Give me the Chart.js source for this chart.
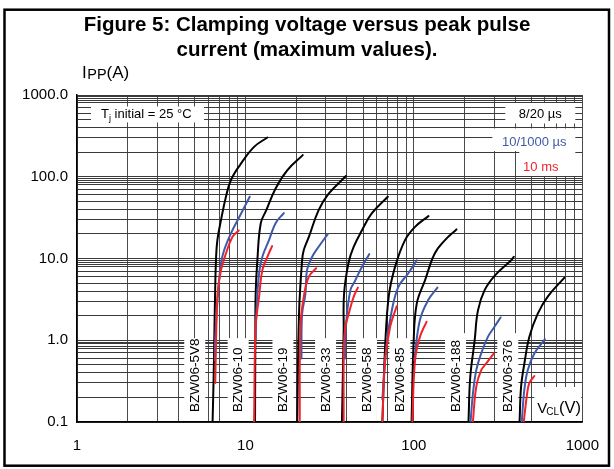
<!DOCTYPE html>
<html><head><meta charset="utf-8">
<script src="https://cdn.jsdelivr.net/npm/chart.js@4.4.0/dist/chart.umd.min.js"></script>
<style>html,body{margin:0;padding:0;background:#fff}canvas{display:block}</style>
</head><body>
<canvas id="c" width="614" height="469"></canvas>
<script>
const FONT = "'Liberation Sans', Arial, sans-serif";

// ---- data ----
const devices = ['BZW06-5V8','BZW06-10','BZW06-19','BZW06-33','BZW06-58','BZW06-85','BZW06-188','BZW06-376'];
const labelAt = [5.0, 9.05, 16.7, 29.9, 52.3, 82.6, 176.7, 361];
const labelTop = [1.06, 1.06, 1.06, 1.06, 1.06, 1.06, 1.22, 1.22];
const pulseNames = ['8/20 µs', '10/1000 µs', '10 ms'];
const pulseColors = ['#000000', '#3f5aa8', '#f2222b'];

const xTickValues = [1, 10, 100, 1000];
const xTickLabels = ['1', '10', '100', '1000'];
const yTickValues = [0.1, 1, 10, 100, 1000];
const yTickLabels = ['0.1', '1.0', '10.0', '100.0', '1000.0'];
const xGridSteps = [1, 2, 3, 4, 5, 6, 7, 8, 9];
const yGridSteps = [1, 2, 3, 4, 5, 6, 7, 8, 8.5, 9, 9.5];

// [V_CL (V), I_PP (A)]
const t820_5V8 = [[6.38,0.1],[6.47,0.33],[6.53,1],[6.6,3.4],[6.69,10],[6.82,17],[7.16,29.5],[7.66,57],[8.2,91],[9.3,140],[11.25,232],[13.5,302]];
const t10k_5V8 = [[6.58,0.57],[6.62,1.1],[6.9,4.1],[7.16,8.7],[7.48,12.7],[8.2,20.3],[9.18,32],[10.6,57]];
const t10ms_5V8 = [[6.62,0.3],[6.69,0.95],[6.74,1.8],[6.83,3.7],[7.16,7.2],[7.66,11.5],[8.38,18.4],[9.12,22]];

const t820_10 = [[11.4,0.1],[11.45,1],[11.5,3.7],[11.77,9.5],[12.33,27],[13.3,39],[15.1,72],[17.7,120],[21.9,184]];
const t10k_10 = [[11.5,1],[11.6,2.1],[12.05,6.6],[12.6,10.5],[13.8,16.8],[15.1,27],[16.9,36]];
const t10ms_10 = [[11.25,0.1],[11.5,1.46],[12.05,3.4],[12.6,7.2],[13.5,10.5],[14.4,14.2]];

const t820_19 = [[20.3,0.1],[20.8,2.1],[21.7,9.5],[22.2,12.7],[23.8,18.4],[27.2,39],[31.2,62],[39.5,102]];
const t10k_19 = [[21.5,0.6],[21.7,2.1],[22.7,3.7],[23.2,7.2],[24.9,10.5],[27.2,13.9],[30.8,19.9]];
const t10ms_19 = [[21,0.1],[21.2,1.46],[22.2,3.4],[23.8,6],[26.3,7.6]];

const t820_33 = [[37.4,0.1],[38.3,1.3],[38.5,3.7],[41,9],[43.9,13.9],[49.1,22],[56.2,35.6],[70,57]];
const t10k_33 = [[39,0.6],[39.5,1.5],[42,4.1],[44.9,5.4],[48,7.2],[54.3,11.3]];
const t10ms_33 = [[38.3,0.1],[38.4,0.83],[39.2,1.46],[41,2.1],[43.9,3.4],[46.5,4.4]];

const t820_58 = [[65,0.1],[67.5,0.83],[71,3.5],[77.3,7.9],[88.6,16.8],[101.6,24.4],[122,33]];
const t10k_58 = [[65,0.19],[69,0.92],[73.9,2.3],[80.9,4.5],[92.7,6.6],[104,9.5]];
const t10ms_58 = [[65,0.1],[67.5,0.57],[72.3,1.46],[79,2.6]];

const t820_85 = [[96.9,0.1],[99.6,0.92],[104,2.8],[116.4,5.4],[133,11.5],[153,16.8],[179,22.7]];
const t10k_85 = [[100.5,0.57],[108.6,1.77],[121.6,3.1],[138,4.4]];
const t10ms_85 = [[97.9,0.1],[101.6,0.57],[108.6,1.1],[118.9,1.68]];

const t820_188 = [[211,0.1],[216,0.35],[229.6,1],[240,2.3],[263,4.1],[305,6.3],[378,9.5],[392,10.5]];
const t10k_188 = [[217,0.1],[224,0.22],[234.6,0.43],[251,0.69],[275,1.1],[301,1.46],[327,1.9]];
const t10ms_188 = [[224,0.1],[234.6,0.27],[251,0.43],[269,0.52],[298.5,0.69]];

const t820_376 = [[424,0.1],[433,0.27],[453,0.52],[485,1.1],[543,2.1],[622,3.4],[781,5.8]];
const t10k_376 = [[437,0.1],[453,0.25],[474,0.43],[519,0.69],[600,1.03]];
const t10ms_376 = [[449,0.1],[470,0.22],[485,0.3],[519,0.365]];

const curves = [
  [t820_5V8, t10k_5V8, t10ms_5V8],
  [t820_10, t10k_10, t10ms_10],
  [t820_19, t10k_19, t10ms_19],
  [t820_33, t10k_33, t10ms_33],
  [t820_58, t10k_58, t10ms_58],
  [t820_85, t10k_85, t10ms_85],
  [t820_188, t10k_188, t10ms_188],
  [t820_376, t10k_376, t10ms_376]
];

// ---- build ----
const datasets = [];
curves.forEach((grp, d) => {
  grp.forEach((pts, k) => {
    datasets.push({
      label: devices[d] + ' ' + pulseNames[k],
      data: pts.map(p => ({x: p[0], y: p[1]})),
      showLine: true,
      borderColor: pulseColors[k],
      backgroundColor: pulseColors[k],
      borderWidth: 2,
      pointRadius: 0,
      tension: 0.4,
      borderCapStyle: 'round',
      borderJoinStyle: 'round',
      order: 3 - k
    });
  });
});

function gridValues(steps, e0, e1) {
  const out = [];
  for (let e = e0; e <= e1; e++) steps.forEach(m => out.push(+(m * Math.pow(10, e)).toPrecision(6)));
  out.push(Math.pow(10, e1 + 1));
  return out;
}
const xGrid = gridValues(xGridSteps, 0, 2);
const yGrid = gridValues(yGridSteps, -1, 2);
function labelFor(vals, labels, v) {
  const i = vals.findIndex(t => Math.abs(t - v) / t < 1e-6);
  return i >= 0 ? labels[i] : '';
}

const deco = {
  id: 'deco',
  beforeDatasetsDraw(chart) {
    const {ctx, chartArea: a, scales: {x, y}} = chart;
    ctx.save();
    ctx.fillStyle = '#fff';
    devices.forEach((n, i) => {
      const cx = x.getPixelForValue(labelAt[i]);
      const top = y.getPixelForValue(labelTop[i]);
      ctx.fillRect(cx - 10.5, top, 21, a.bottom - top - 1);
    });
    ctx.fillRect(a.left + 14, a.top + 11.5, 113, 16);
    ctx.fillRect(a.right - 77, a.top + 8, 70, 20.5);
    ctx.fillRect(a.right - 90, a.top + 33.5, 83, 22.5);
    ctx.fillRect(a.right - 63, a.top + 56, 56, 25);
    ctx.fillRect(a.right - 48, a.bottom - 35, 47, 34);

    ctx.fillStyle = '#000';
    ctx.font = '13.5px ' + FONT;
    ctx.textAlign = 'left';
    ctx.textBaseline = 'middle';
    devices.forEach((n, i) => {
      const cx = x.getPixelForValue(labelAt[i]);
      ctx.save();
      ctx.translate(cx + 0.5, a.bottom - 10);
      ctx.rotate(-Math.PI / 2);
      ctx.fillText(n, 0, 0);
      ctx.restore();
    });

    ctx.textBaseline = 'alphabetic';
    // Tj initial
    let tx = a.left + 24;
    const tb = a.top + 23;
    ctx.font = '13px ' + FONT;
    ctx.fillText('T', tx, tb);
    tx += ctx.measureText('T').width;
    ctx.font = '9px ' + FONT;
    ctx.fillText('j', tx, tb + 3);
    tx += ctx.measureText('j').width;
    ctx.font = '13px ' + FONT;
    ctx.fillText(' initial = 25 °C', tx, tb);

    // pulse legend
    ctx.textAlign = 'center';
    ctx.fillStyle = pulseColors[0];
    ctx.fillText(pulseNames[0], a.right - 42, a.top + 23);
    ctx.fillStyle = pulseColors[1];
    ctx.fillText(pulseNames[1], a.right - 48, a.top + 51);
    ctx.fillStyle = pulseColors[2];
    ctx.fillText(pulseNames[2], a.right - 41.5, a.top + 75.5);

    // V_CL(V)
    ctx.textAlign = 'left';
    ctx.fillStyle = '#000';
    let vx = a.right - 45;
    const vb = a.bottom - 9;
    ctx.font = '15px ' + FONT;
    ctx.fillText('V', vx, vb);
    vx += ctx.measureText('V').width - 1;
    ctx.font = '10px ' + FONT;
    ctx.fillText('CL', vx, vb + 2);
    vx += ctx.measureText('CL').width;
    ctx.font = '16.5px ' + FONT;
    ctx.fillText('(V)', vx, vb);
    ctx.restore();
  },
  afterDraw(chart) {
    const {ctx} = chart;
    ctx.save();
    ctx.fillStyle = '#000';
    ctx.textAlign = 'center';
    ctx.textBaseline = 'alphabetic';
    ctx.font = 'bold 20.5px ' + FONT;
    ctx.fillText('Figure 5: Clamping voltage versus peak pulse', 307, 31);
    ctx.fillText('current (maximum values).', 307, 56);

    // I_PP(A)
    ctx.textAlign = 'left';
    let ix = 82;
    const ib = 78;
    ctx.font = '17px ' + FONT;
    ctx.fillText('I', ix, ib);
    ix += ctx.measureText('I').width + 0.5;
    ctx.font = '14.5px ' + FONT;
    ctx.fillText('PP', ix, ib + 1);
    ix += ctx.measureText('PP').width;
    ctx.font = '17px ' + FONT;
    ctx.fillText('(A)', ix, ib);

    ctx.strokeStyle = '#000';
    ctx.lineWidth = 2.5;
    ctx.strokeRect(4.5, 9.7, 604.5, 456);
    ctx.restore();
  }
};

new Chart(document.getElementById('c'), {
  type: 'scatter',
  data: {datasets},
  options: {
    responsive: false,
    animation: false,
    devicePixelRatio: 1,
    layout: {padding: {top: 95, right: 29, left: 0, bottom: 0}},
    plugins: {legend: {display: false}, tooltip: {enabled: false}, title: {display: false}},
    scales: {
      x: {
        type: 'logarithmic', min: 1, max: 1000,
        afterBuildTicks: s => { s.ticks = xGrid.map(v => ({value: v})); },
        afterFit: s => { s.height = 47; },
        grid: {color: '#4a4a4a', lineWidth: 1, drawTicks: false},
        border: {color: '#000', width: 1.5},
        ticks: {
          autoSkip: false, maxRotation: 0, minRotation: 0, padding: 15,
          color: '#000', font: {family: FONT, size: 15},
          callback: v => labelFor(xTickValues, xTickLabels, v)
        }
      },
      y: {
        type: 'logarithmic', min: 0.1, max: 1000,
        afterBuildTicks: s => { s.ticks = yGrid.map(v => ({value: v})); },
        afterFit: s => { s.width = 77; },
        grid: {color: '#3a3a3a', lineWidth: 1, drawTicks: false},
        border: {color: '#000', width: 1.5},
        ticks: {
          autoSkip: false, padding: 9,
          color: '#000', font: {family: FONT, size: 15},
          callback: v => labelFor(yTickValues, yTickLabels, v)
        }
      }
    }
  },
  plugins: [deco]
});
</script>
</body></html>
